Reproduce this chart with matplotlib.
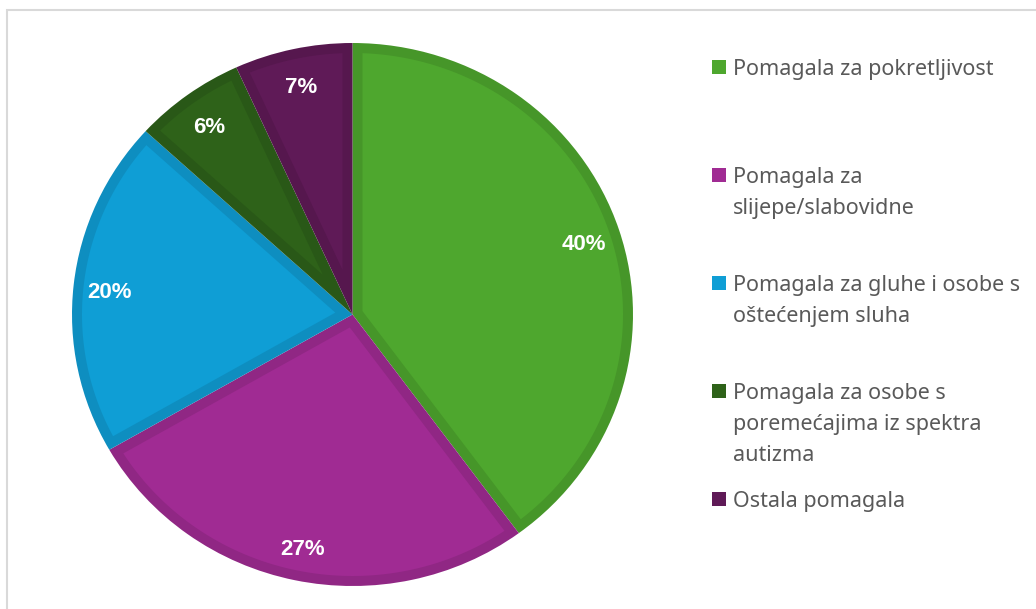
import matplotlib
matplotlib.use('Agg')
from matplotlib import pyplot as plt
from matplotlib.patches import Rectangle
import matplotlib.colors as mcolors
import numpy as np

# podaci
categories = [
    'Pomagala za pokretljivost',
    'Pomagala za\nslijepe/slabovidne',
    'Pomagala za gluhe i osobe s\noštećenjem sluha',
    'Pomagala za osobe s\nporemećajima iz spektra\nautizma',
    'Ostala pomagala',
]
shares = [39.9, 26.8, 20.1, 6.4, 6.8]
colors = ['#4EA72E', '#A02B93', '#0F9ED5', '#2E6219', '#5F1A57']


def darker(c, f=0.9):
    r, g, b = mcolors.to_rgb(c)
    return (r * f, g * f, b * f)


def inset_polygon(theta1, theta2, rx, ry, d):
    """
    Isječak (u pikselima) smanjen za d od svih rubova, vraća točke u
    koordinatama osi (elipsa polumjera 1).
    """
    t1, t2 = np.radians(theta1), np.radians(theta2)
    p1 = np.arctan2(ry * np.sin(t1), rx * np.cos(t1))
    p2 = np.arctan2(ry * np.sin(t2), rx * np.cos(t2))
    if p2 <= p1:
        p2 += 2 * np.pi
    u1 = np.array([np.cos(p1), np.sin(p1)])
    u2 = np.array([np.cos(p2), np.sin(p2)])
    n1 = np.array([-u1[1], u1[0]])
    n2 = np.array([u2[1], -u2[0]])
    a, b = rx - d, ry - d
    half = (p2 - p1) / 2
    pm = p1 + half
    vertex = d / np.sin(half) * np.array([np.cos(pm), np.sin(pm)])

    def hit(n, u):
        # presjek pravca d*n + s*u s unutarnjom elipsom
        o = d * n
        A = (u[0] / a) ** 2 + (u[1] / b) ** 2
        B = 2 * (o[0] * u[0] / a ** 2 + o[1] * u[1] / b ** 2)
        C = (o[0] / a) ** 2 + (o[1] / b) ** 2 - 1
        s = (-B + np.sqrt(B * B - 4 * A * C)) / (2 * A)
        return o + s * u

    e1, e2 = hit(n1, u1), hit(n2, u2)
    ts = np.linspace(t1, t2 if t2 > t1 else t2 + 2 * np.pi, 800)
    arc = np.column_stack([a * np.cos(ts), b * np.sin(ts)])
    c1 = u1[0] * arc[:, 1] - u1[1] * arc[:, 0]
    c2 = arc[:, 0] * u2[1] - arc[:, 1] * u2[0]
    arc = arc[(c1 >= d) & (c2 >= d)]
    pts = np.vstack([vertex, e1, arc, e2])
    return pts[:, 0] / rx, pts[:, 1] / ry


W, H = 1036, 609
fig = plt.figure(figsize=(W / 100, H / 100), dpi=100)

# okvir grafikona
fig.patches.append(Rectangle((7 / W, -0.1), 1.2, (H - 10) / H + 0.1,
                             transform=fig.transFigure, fill=False,
                             edgecolor='#d9d9d9', lw=1.5))

# pita je malo razvučena (elipsa)
cx0, cx1, cy0, cy1 = 72, 633, 43, 586
rx, ry = (cx1 - cx0) / 2, (cy1 - cy0) / 2
ax = fig.add_axes([cx0 / W, 1 - cy1 / H, (cx1 - cx0) / W, (cy1 - cy0) / H])
wedges, _, autotexts = ax.pie(shares, colors=[darker(c) for c in colors],
                              startangle=90, counterclock=False, radius=1.0,
                              autopct='%1.0f%%', pctdistance=0.87)
ax.set_aspect('auto')
ax.set_xlim(-1, 1)
ax.set_ylim(-1, 1)
ax.axis('off')

# svjetlija unutrašnjost svakog isječka, tamniji rub ostaje vidljiv
for w, c in zip(wedges, colors):
    xs, ys = inset_polygon(w.theta1, w.theta2, rx, ry, 10)
    ax.fill(xs, ys, color=c, lw=0, zorder=2)
for t in autotexts:
    t.set_color('white')
    t.set_fontweight('bold')
    t.set_fontsize(16)
    t.set_family('Liberation Sans')
    t.set_zorder(5)
    x, y = t.get_position()
    t.set_position((x, y - 0.015))

# legenda
top, step, line_h = 67, 108, 31
for i, (lab, c) in enumerate(zip(categories, colors)):
    y = top + i * step
    fig.patches.append(Rectangle((712 / W, 1 - (y + 7) / H), 14 / W, 14 / H,
                                 transform=fig.transFigure, color=c, lw=0))
    for j, line in enumerate(lab.split('\n')):
        fig.text(733 / W, 1 - (y + j * line_h) / H, line, ha='left',
                 va='center_baseline', fontsize=15.5, color='#595959',
                 family='Noto Sans')

fig.savefig('out.png', dpi=100)
